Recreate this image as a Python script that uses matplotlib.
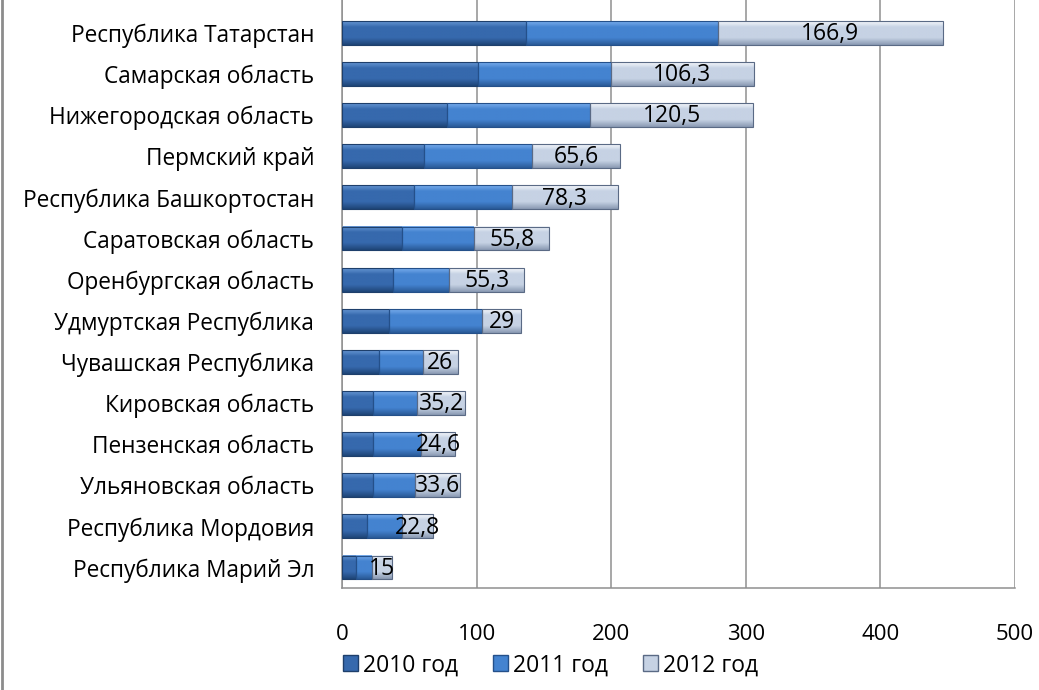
import numpy as np
import matplotlib.pyplot as plt
from matplotlib.patches import Patch
from matplotlib.lines import Line2D
from matplotlib.colors import to_rgb

plt.rcParams['font.family'] = ['Open Sans', 'DejaVu Sans']

regions = ['Республика Татарстан', 'Самарская область', 'Нижегородская область',
           'Пермский край', 'Республика Башкортостан', 'Саратовская область',
           'Оренбургская область', 'Удмуртская Республика', 'Чувашская Республика',
           'Кировская область', 'Пензенская область', 'Ульяновская область',
           'Республика Мордовия', 'Республика Марий Эл']
y2010 = [136.4, 100.9, 78.2, 61.0, 53.3, 44.7, 38.1, 34.6, 27.5, 23.0, 23.0, 23.0, 18.8, 10.5]
y2011 = [143.0, 98.8, 106.4, 80.3, 73.1, 53.6, 41.7, 69.5, 32.5, 33.0, 36.0, 31.0, 26.0, 11.5]
y2012 = [166.9, 106.3, 120.5, 65.6, 78.3, 55.8, 55.3, 29, 26, 35.2, 24.6, 33.6, 22.8, 15]
labels2012 = ['166,9', '106,3', '120,5', '65,6', '78,3', '55,8', '55,3', '29', '26',
              '35,2', '24,6', '33,6', '22,8', '15']
series_names = ['2010 год', '2011 год', '2012 год']

# gradient stops (top, middle, bottom) for the beveled look
grads = [('#6595d2', '#3669ad', '#1f4577'),
         ('#78acec', '#4483d0', '#2a5a98'),
         ('#f4f7fb', '#c6d2e4', '#8a9ab3')]


def gradient_img(stops, n=40):
    t = np.linspace(0, 1, n)
    c0, c1, c2 = [np.array(to_rgb(c)) for c in stops]
    img = np.zeros((n, 1, 3))
    for i, v in enumerate(t):
        if v < 0.25:
            img[i, 0] = c0 + (c1 - c0) * (v / 0.25)
        elif v < 0.7:
            img[i, 0] = c1
        else:
            img[i, 0] = c1 + (c2 - c1) * ((v - 0.7) / 0.3)
    return img


fig = plt.figure(figsize=(10.39, 6.9), dpi=100)
ax = fig.add_axes([342 / 1039, (690 - 588) / 690, (1015 - 342) / 1039, 588 / 690])

y = np.arange(len(regions))
left = np.zeros(len(regions))
edges = ['#1e3f6b', '#24508a', '#5a6a85']
for vals, stops, ec in zip([y2010, y2011, y2012], grads, edges):
    bars = ax.barh(y, vals, left=left, height=0.58, facecolor='none',
                   edgecolor=ec, linewidth=0.8, zorder=3)
    img = gradient_img(stops)
    for b in bars:
        x0, y0 = b.get_x(), b.get_y()
        w, h = b.get_width(), b.get_height()
        ax.imshow(img, extent=[x0, x0 + w, y0 + h, y0], aspect='auto',
                  interpolation='bilinear', zorder=2)
    left = left + np.array(vals)

# data labels on the 2012 segment
for i in range(len(regions)):
    xc = left[i] - y2012[i] / 2
    ax.text(xc, y[i] + 0.03, labels2012[i], ha='center', va='center',
            fontsize=16.5, color='black', zorder=4)

ax.set_xlim(0, 500)
ax.set_ylim(13.5, -0.8)
ax.set_xticks(np.arange(0, 501, 100))
ax.set_yticks(y)
ax.set_yticklabels(regions, fontsize=16.3)
ax.tick_params(axis='x', labelsize=16, length=0, pad=26)
ax.tick_params(axis='y', length=0, pad=20)
ax.grid(axis='x', color='#8f8f8f', linewidth=1.1, zorder=0)
ax.set_axisbelow(True)
for s in ['top', 'right']:
    ax.spines[s].set_visible(False)
for s in ['left', 'bottom']:
    ax.spines[s].set_color('#8f8f8f')
    ax.spines[s].set_linewidth(1.1)

# outer chart border on the left
fig.add_artist(Line2D([0.002, 0.002], [0, 1], transform=fig.transFigure,
                      color='#8c8c8c', linewidth=2))

handles = [Patch(facecolor=g[1], edgecolor=e) for g, e in zip(grads, edges)]
fig.legend(handles, series_names, loc='center', bbox_to_anchor=(0.53, 0.036),
           ncol=3, frameon=False, fontsize=16.5, handlelength=0.65, handleheight=0.65,
           handletextpad=0.25, columnspacing=1.5)

fig.savefig('out.png', dpi=100)
